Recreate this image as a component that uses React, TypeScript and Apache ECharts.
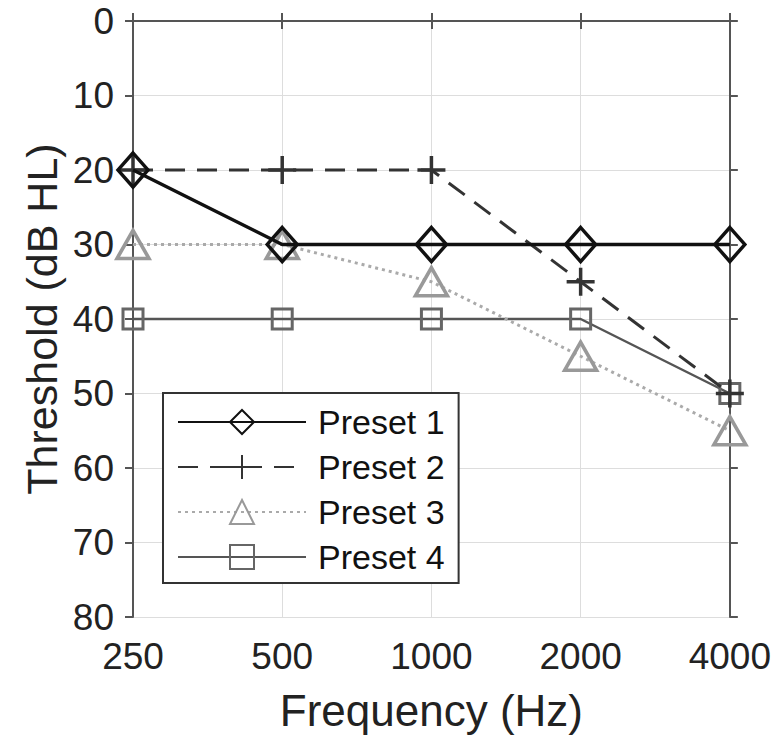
import React, { useEffect, useRef } from "react";
import * as echarts from "echarts";

const categories = ["250", "500", "1000", "2000", "4000"];
const preset1 = [20, 30, 30, 30, 30];
const preset2 = [20, 20, 20, 35, 50];
const preset3 = [30, 30, 35, 45, 55];
const preset4 = [40, 40, 40, 40, 50];
const seriesNames = ["Preset 1", "Preset 2", "Preset 3", "Preset 4"];

const FONT = "'Liberation Sans', Arial, sans-serif";

export default function App() {
  const ref = useRef<HTMLDivElement>(null);
  useEffect(() => {
    if (!ref.current) return;
    const chart = echarts.init(ref.current, undefined, { renderer: "svg" });
    const axisLine = { show: true, lineStyle: { color: "#555", width: 2 } };
    const tick = { show: true, inside: false, length: 8, lineStyle: { color: "#555", width: 2 } };
    const transparent = "rgba(0,0,0,0)";
    chart.setOption({
      animation: false,
      backgroundColor: "#fff",
      textStyle: { fontFamily: FONT },
      grid: { left: 133, right: 44, top: 21, bottom: 122, containLabel: false },
      legend: {
        orient: "vertical",
        left: 163,
        top: 393,
        width: 299,
        padding: [12, 14, 9, 14],
        itemWidth: 128,
        itemHeight: 30,
        itemGap: 11,
        backgroundColor: "#fff",
        borderColor: "#333",
        borderWidth: 2,
        data: seriesNames,
        textStyle: {
          fontSize: 34,
          color: "#111",
          fontFamily: FONT,
          padding: [0, 0, 0, 7],
        },
      },
      xAxis: [
        {
          type: "category",
          data: categories,
          boundaryGap: false,
          position: "bottom",
          axisLine,
          axisTick: tick,
          axisLabel: { fontSize: 37, color: "#222", margin: 21, fontFamily: FONT },
          splitLine: { show: true, lineStyle: { color: "#ddd", width: 1 } },
          name: "Frequency (Hz)",
          nameLocation: "middle",
          nameGap: 71,
          nameMoveOverlap: false,
          nameTextStyle: { fontSize: 44, color: "#222", fontFamily: FONT },
        },
        {
          type: "category",
          data: categories,
          boundaryGap: false,
          position: "top",
          axisLine,
          axisTick: tick,
          axisLabel: { show: false },
          splitLine: { show: false },
        },
      ],
      yAxis: [
        {
          type: "value",
          inverse: true,
          min: 0,
          max: 80,
          interval: 10,
          position: "left",
          axisLine,
          axisTick: tick,
          axisLabel: { fontSize: 37, color: "#222", margin: 19, fontFamily: FONT },
          splitLine: { show: true, lineStyle: { color: "#ddd", width: 1 } },
          name: "Threshold (dB HL)",
          nameLocation: "middle",
          nameGap: 70,
          nameMoveOverlap: false,
          nameTextStyle: { fontSize: 43, color: "#222", fontFamily: FONT },
        },
        {
          type: "value",
          inverse: true,
          min: 0,
          max: 80,
          interval: 10,
          position: "right",
          axisLine,
          axisTick: tick,
          axisLabel: { show: false },
          splitLine: { show: false },
        },
      ],
      series: [
        {
          name: seriesNames[0],
          type: "line",
          data: preset1,
          clip: false,
          symbol: "diamond",
          symbolSize: [30, 34],
          lineStyle: { color: "#111", width: 3.5, type: "solid" },
          itemStyle: { color: transparent, borderColor: "#111", borderWidth: 3.5 },
          z: 5,
        },
        {
          name: seriesNames[1],
          type: "line",
          data: preset2,
          clip: false,
          symbol: "path://M0,-10 L0,10 M-10,0 L10,0",
          symbolSize: 28,
          lineStyle: { color: "#333", width: 3, type: [20, 12] },
          itemStyle: { color: transparent, borderColor: "#333", borderWidth: 3.5 },
          z: 4,
        },
        {
          name: seriesNames[2],
          type: "line",
          data: preset3,
          clip: false,
          symbol: "triangle",
          symbolSize: [32, 28],
          lineStyle: { color: "#aaa", width: 3, type: [3, 4] },
          itemStyle: { color: transparent, borderColor: "#999", borderWidth: 3.5 },
          z: 3,
        },
        {
          name: seriesNames[3],
          type: "line",
          data: preset4,
          clip: false,
          symbol: "rect",
          symbolSize: 20,
          lineStyle: { color: "#555", width: 2.5, type: "solid" },
          itemStyle: { color: transparent, borderColor: "#666", borderWidth: 3 },
          z: 2,
        },
      ],
    });
    return () => chart.dispose();
  }, []);
  return (
    <div
      ref={ref}
      style={{ position: "absolute", left: 0, top: 0, width: 774, height: 739 }}
    />
  );
}
